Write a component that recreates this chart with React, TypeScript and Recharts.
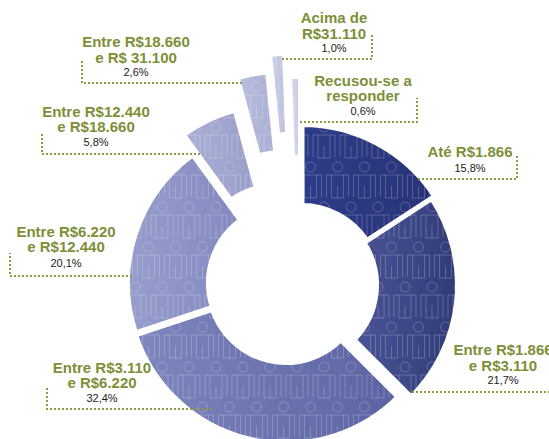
import React from 'react';
import { PieChart, Pie, Cell } from 'recharts';

// ---- data ----
const labelLine1 = ['Até R$1.866', 'Entre R$1.866', 'Entre R$3.110', 'Entre R$6.220', 'Entre R$12.440', 'Entre R$18.660', 'Acima de', 'Recusou-se a'];
const labelLine2 = ['', 'e R$3.110', 'e R$6.220', 'e R$12.440', 'e R$18.660', 'e R$ 31.100', 'R$31.110', 'responder'];
const shares = [15.8, 21.7, 32.4, 20.1, 5.8, 2.6, 1.0, 0.6];

// ---- styling / layout ----
const gradStops = [
  ['#2e3c88', '#283378'],
  ['#4b5597', '#313b77'],
  ['#7f87be', '#5a62a1'],
  ['#979dcc', '#8389bf'],
  ['#abb0d5', '#989ecb'],
  ['#babedc', '#aaafd4'],
  ['#cbcee5', '#bdc1de'],
  ['#d6d8eb', '#cacde5'],
];
const sliceOffsets = [[16, 0], [13, 2], [0, 2], [0, 0], [-9.5, -20], [-5, -53], [2, -71], [12, -48]];
const stroked = [true, true, true, true, true, false, false, false];
const CX = 286;
const CY = 283;

type LabelLayout = { x: number; y: number[]; leader: number[][] };
const labelLayout: LabelLayout[] = [
  { x: 470, y: [157, 0, 172], leader: [[418, 179], [517, 179], [517, 155]] },
  { x: 503, y: [355, 371, 384], leader: [[412, 392], [560, 392]] },
  { x: 102, y: [373, 388, 402], leader: [[212, 409], [47, 409], [47, 387]] },
  { x: 66, y: [237, 252, 267], leader: [[132, 276], [10, 276], [10, 253]] },
  { x: 96, y: [117, 132, 146], leader: [[200, 154], [42, 154], [42, 132]] },
  { x: 136, y: [47, 63, 76], leader: [[242, 83], [82, 83], [82, 60]] },
  { x: 334, y: [23, 39, 52], leader: [[282, 59], [372, 59], [372, 33]] },
  { x: 363, y: [86, 101, 115], leader: [[300, 122], [417, 122], [417, 98]] },
];

const chartData = shares.map((v, i) => ({ name: labelLine1[i] + (labelLine2[i] ? ' ' + labelLine2[i] : ''), value: v }));

const OLIVE = '#7d8f38';
const DOT = '#8c9b44';
const FONT = '"Liberation Sans", Arial, sans-serif';

const fmtPct = (v: number) => v.toFixed(1).replace('.', ',') + '%';

const renderLabel = (props: any) => {
  const i = props.index as number;
  const L = labelLayout[i];
  if (!L) return null;
  const pts = L.leader.map((p) => p.join(',')).join(' ');
  return (
    <g key={`lbl-${i}`}>
      <polyline points={pts} fill="none" stroke={DOT} strokeWidth={2} strokeDasharray="2 2" />
      <text x={L.x} y={L.y[0]} textAnchor="middle" fontFamily={FONT} fontWeight="bold" fontSize={15} fill={OLIVE}>
        {labelLine1[i]}
      </text>
      {labelLine2[i] ? (
        <text x={L.x} y={L.y[1]} textAnchor="middle" fontFamily={FONT} fontWeight="bold" fontSize={15} fill={OLIVE}>
          {labelLine2[i]}
        </text>
      ) : null}
      <text x={L.x} y={L.y[2]} textAnchor="middle" fontFamily={FONT} fontSize={11} fill="#1a1a1a">
        {fmtPct(shares[i])}
      </text>
    </g>
  );
};

const Figure = ({ ox, oy }: { ox: number; oy: number }) => (
  <g transform={`translate(${ox},${oy})`}>
    <circle cx={13.5} cy={7} r={5} />
    <path d="M2.5,37 V15 H24.5 V37" />
    <path d="M7.5,38 V15 M19.5,38 V15 M7.5,38 H19.5" />
    <path d="M13.5,26 V38" />
  </g>
);

export default function App() {
  const pies: React.ReactNode[] = [];
  shares.forEach((_, i) => {
    const [dx, dy] = sliceOffsets[i];
    const s = stroked[i];
    const inner = s ? 77.5 : 80;
    const outer = s ? 158.5 : 156;
    pies.push(
      <Pie
        key={`g${i}`}
        data={chartData}
        dataKey="value"
        cx={CX + dx}
        cy={CY + dy}
        innerRadius={inner}
        outerRadius={outer}
        startAngle={90}
        endAngle={-270}
        isAnimationActive={false}
        labelLine={false}
        label={false}
      >
        {chartData.map((_, j) => (
          <Cell
            key={j}
            fill={j === i ? `url(#grad${i})` : 'none'}
            stroke={j === i && s ? '#ffffff' : 'none'}
            strokeWidth={5}
          />
        ))}
      </Pie>
    );
    pies.push(
      <Pie
        key={`p${i}`}
        data={chartData}
        dataKey="value"
        cx={CX + dx}
        cy={CY + dy}
        innerRadius={inner}
        outerRadius={outer}
        startAngle={90}
        endAngle={-270}
        isAnimationActive={false}
        labelLine={false}
        label={i === shares.length - 1 ? renderLabel : false}
      >
        {chartData.map((_, j) => (
          <Cell key={j} fill={j === i ? 'url(#people)' : 'none'} stroke="none" />
        ))}
      </Pie>
    );
  });

  return (
    <div style={{ position: 'absolute', left: 0, top: 0, width: 549, height: 439, background: '#fff' }}>
      <PieChart width={549} height={439} margin={{ top: 0, right: 0, bottom: 0, left: 0 }}>
        <defs>
          {gradStops.map((g, i) => (
            <linearGradient key={i} id={`grad${i}`} x1="0" y1="0" x2="1" y2="0">
              <stop offset="0%" stopColor={g[0]} />
              <stop offset="100%" stopColor={g[1]} />
            </linearGradient>
          ))}
          <pattern id="people" patternUnits="userSpaceOnUse" width={27} height={80} x={0} y={0}>
            <g fill="none" stroke="rgba(255,255,255,0.2)" strokeWidth={1}>
              <Figure ox={0} oy={0} />
              <Figure ox={13.5} oy={40} />
              <Figure ox={-13.5} oy={40} />
            </g>
          </pattern>
        </defs>
        {pies}
      </PieChart>
    </div>
  );
}
